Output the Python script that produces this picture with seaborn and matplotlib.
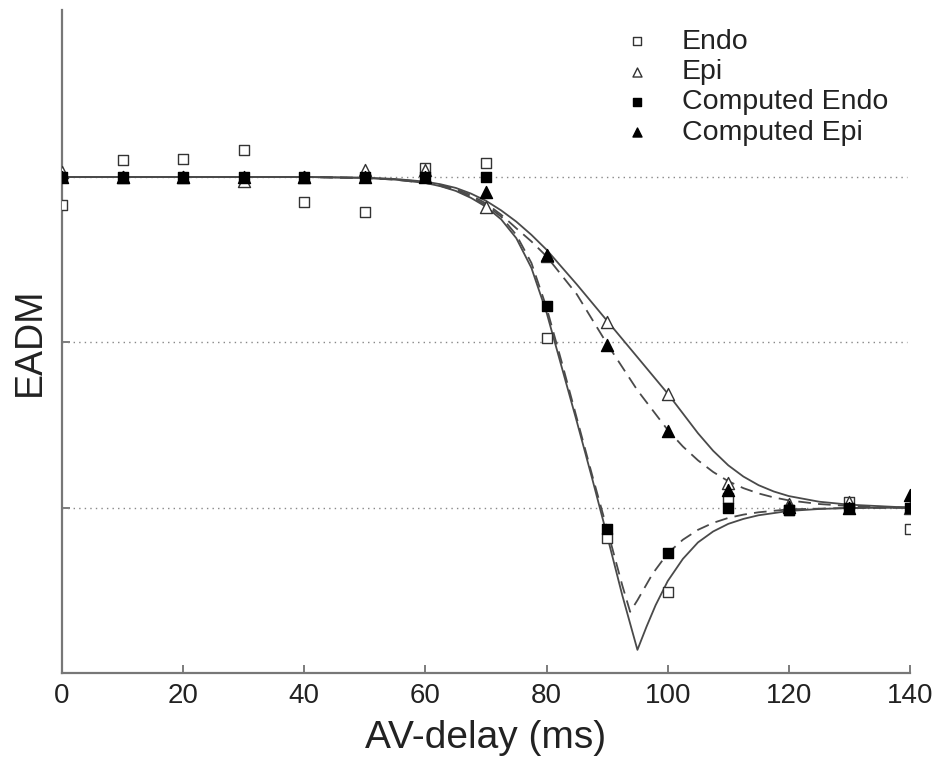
import numpy as np
import pandas as pd
import matplotlib
matplotlib.use("Agg")
import matplotlib.pyplot as plt
import seaborn as sns

# ---- measured points -------------------------------------------------
delay = [0, 10, 20, 30, 40, 50, 60, 70, 80, 90, 100, 110, 120, 130, 140]
endo = [0.915, 1.051, 1.054, 1.082, 0.924, 0.894, 1.027, 1.042, 0.514,
        -0.091, -0.254, 0.030, -0.006, 0.018, -0.066]
epi = [1.015, 1.0, 1.0, 0.988, 1.0, 1.021, 1.020, 0.909, 0.760,
       0.562, 0.344, 0.076, 0.010, 0.018, 0.0]
comp_endo = [1.0, 1.0, 1.0, 1.0, 1.0, 1.0, 1.0, 1.0, 0.610,
             -0.066, -0.136, 0.0, -0.006, 0.0, 0.0]
comp_epi = [1.0, 1.0, 1.0, 1.0, 1.0, 1.0, 1.0, 0.955, 0.764,
            0.492, 0.233, 0.054, 0.003, 0.0, 0.039]

# ---- fitted curves ---------------------------------------------------
x_endo_solid = [0, 40, 50, 55, 60, 62.5, 65, 67.5, 70, 72.5, 75, 77.5, 80, 82.5,
                85, 87.5, 90, 92.5, 95, 96.5, 98, 100, 102.5, 105, 107.5, 110,
                112.5, 115, 120, 125, 130, 140]
endo_solid = [1.0, 1.0, 0.997, 0.992, 0.982, 0.972, 0.958, 0.937, 0.91, 0.872,
              0.815, 0.725, 0.59, 0.425, 0.26, 0.09, -0.085, -0.265, -0.43,
              -0.36, -0.295, -0.222, -0.155, -0.105, -0.072, -0.049, -0.034,
              -0.023, -0.01, -0.004, -0.001, 0.0]

x_endo_dash = [0, 40, 50, 55, 60, 62.5, 65, 67.5, 70, 72.5, 75, 77.5, 80, 82.5,
               85, 87.5, 90, 92.5, 93.8, 95, 97.5, 100, 102.5, 105, 107.5, 110,
               112.5, 115, 120, 130, 140]
endo_dash = [1.0, 1.0, 0.997, 0.992, 0.982, 0.973, 0.96, 0.94, 0.915, 0.88,
             0.825, 0.74, 0.605, 0.44, 0.27, 0.10, -0.065, -0.235, -0.315,
             -0.28, -0.2, -0.138, -0.097, -0.067, -0.046, -0.031, -0.021,
             -0.014, -0.005, -0.001, 0.0]

x_epi = [0, 40, 50, 55, 60, 62.5, 65, 67.5, 70, 72.5, 75, 77.5, 80, 85, 90, 95,
         100, 102.5, 105, 107.5, 110, 112.5, 115, 117.5, 120, 125, 130, 140]
epi_solid = [1.0, 1.0, 0.998, 0.994, 0.986, 0.978, 0.967, 0.95, 0.928, 0.899,
             0.865, 0.825, 0.78, 0.675, 0.565, 0.455, 0.345, 0.285, 0.225,
             0.172, 0.128, 0.094, 0.068, 0.049, 0.035, 0.018, 0.009, 0.0]
epi_dash = [1.0, 1.0, 0.997, 0.993, 0.985, 0.976, 0.963, 0.945, 0.92, 0.886,
            0.845, 0.805, 0.76, 0.645, 0.495, 0.355, 0.235, 0.185, 0.143,
            0.108, 0.08, 0.059, 0.043, 0.031, 0.022, 0.011, 0.005, 0.0]

ref_levels = [0.0, 0.5, 1.0]
x_ticks = [0, 20, 40, 60, 80, 100, 120, 140]

# ---- drawing ----------------------------------------------------------
sns.set_style("ticks")
plt.rcParams["font.family"] = ["Liberation Sans", "DejaVu Sans"]

fig = plt.figure(figsize=(9.42, 7.58), dpi=100)
ax = fig.add_axes([62 / 942, 85 / 758, 848 / 942, 663 / 758])

for lvl in ref_levels:
    ax.hlines(lvl, 0, 139.5, colors="#888888", linestyles=(0, (1, 3)),
              linewidth=1.0, zorder=1)

line_col = "#4a4a4a"
sns.lineplot(x=x_endo_solid, y=endo_solid, ax=ax, color=line_col, lw=1.3,
             linestyle="-", legend=False, zorder=2)
sns.lineplot(x=x_endo_dash, y=endo_dash, ax=ax, color=line_col, lw=1.3,
             linestyle=(0, (7, 4)), legend=False, zorder=2)
sns.lineplot(x=x_epi, y=epi_solid, ax=ax, color=line_col, lw=1.3,
             linestyle="-", legend=False, zorder=2)
sns.lineplot(x=x_epi, y=epi_dash, ax=ax, color=line_col, lw=1.3,
             linestyle=(0, (7, 4)), legend=False, zorder=2)

sns.scatterplot(x=delay, y=endo, ax=ax, marker="s", s=55, color="white",
                edgecolor="#333333", linewidth=1.0, label="Endo", zorder=3)
sns.scatterplot(x=delay, y=epi, ax=ax, marker="^", s=75, color="white",
                edgecolor="#333333", linewidth=1.0, label="Epi", zorder=3)
sns.scatterplot(x=delay, y=comp_endo, ax=ax, marker="s", s=55, color="black",
                edgecolor="black", linewidth=1.0, label="Computed Endo", zorder=4)
sns.scatterplot(x=delay, y=comp_epi, ax=ax, marker="^", s=75, color="black",
                edgecolor="black", linewidth=1.0, label="Computed Epi", zorder=4)

ax.set_xlim(0, 140)
ax.set_ylim(-0.5, 1.505)
ax.set_xticks(x_ticks)
ax.set_yticks(ref_levels)
ax.set_yticklabels([])
ax.tick_params(axis="both", direction="in", length=6, width=1.2,
               color="#666666", labelsize=20, pad=7)
ax.tick_params(axis="x", labelcolor="#222222")

for side in ["top", "right"]:
    ax.spines[side].set_visible(False)
for side in ["left", "bottom"]:
    ax.spines[side].set_color("#777777")
    ax.spines[side].set_linewidth(1.6)

ax.set_xlabel("AV-delay (ms)", fontsize=28, color="#222222", labelpad=8)
ax.set_ylabel("EADM", fontsize=27, color="#222222", labelpad=3)

leg = ax.legend(loc="upper left", bbox_to_anchor=(0.6615, 0.962),
                bbox_transform=fig.transFigure, frameon=False, fontsize=20.5,
                handlelength=1.0, handletextpad=1.05, labelspacing=0.15,
                borderpad=0, borderaxespad=0, markerscale=0.75)
for t in leg.get_texts():
    t.set_color("#222222")

fig.savefig("out.png", dpi=100)
